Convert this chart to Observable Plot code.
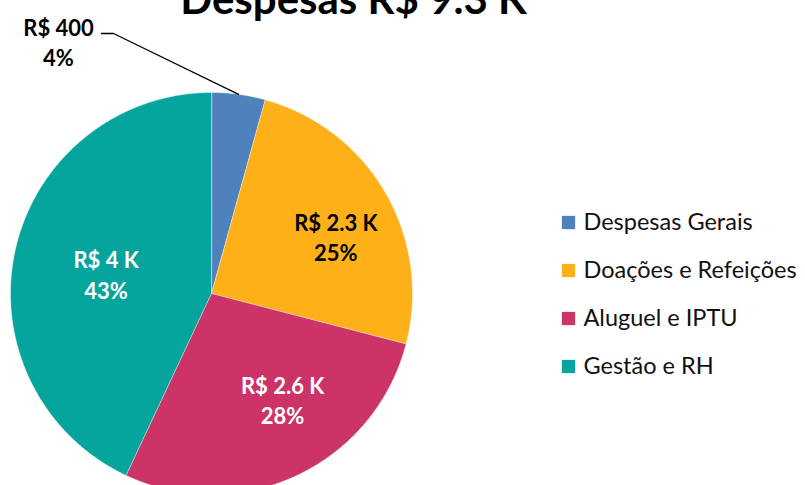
<!DOCTYPE html>
<html>
<head>
<meta charset="utf-8">
<script src="https://cdn.jsdelivr.net/npm/d3@7"></script>
<script src="https://cdn.jsdelivr.net/npm/@observablehq/plot@0.6"></script>
<style>
  html, body { margin: 0; padding: 0; background: white; overflow: hidden; }
  #chart { width: 805px; height: 485px; }
</style>
</head>
<body>
<div id="chart"></div>
<script>
// ---- data ----
const title = "Despesas R$ 9.3 K";
const categories = ["Despesas Gerais", "Doações e Refeições", "Aluguel e IPTU", "Gestão e RH"];
const values = [400, 2300, 2600, 4000];
const valueLabels = ["R$ 400", "R$ 2.3 K", "R$ 2.6 K", "R$ 4 K"];
const percentLabels = ["4%", "25%", "28%", "43%"];
const colors = ["#4f81bd", "#fdb018", "#cc3366", "#05a59d"];
const labelColors = ["#000000", "#000000", "#ffffff", "#ffffff"];

// ---- layout ----
const W = 805, H = 485;
const cx = 211, cy = 293, R = 201;
const FONT = "Lato, 'Open Sans', sans-serif";

const arcs = d3.pie().sort(null).value(d => d)(values);

// slice outlines derived from the data through d3.pie
const slicePts = [];
arcs.forEach((a, i) => {
  const cat = categories[i];
  slicePts.push({cat, x: cx, y: cy});
  const n = Math.max(4, Math.ceil((a.endAngle - a.startAngle) / (Math.PI / 360)));
  for (let k = 0; k <= n; k++) {
    const t = a.startAngle + (a.endAngle - a.startAngle) * k / n;
    slicePts.push({cat, x: cx + R * Math.sin(t), y: cy - R * Math.cos(t)});
  }
});

// in-slice labels at mid angle (small nudges like the Excel best-fit placement)
const labelNudge = [[0, 0], [6, 11], [13, -18], [28, 10]];
const labelR = 0.68 * R;
const inside = arcs.map((a, i) => {
  const m = (a.startAngle + a.endAngle) / 2;
  return {
    i,
    text: valueLabels[i] + "\n" + percentLabels[i],
    x: cx + labelR * Math.sin(m) + labelNudge[i][0],
    y: cy - labelR * Math.cos(m) + labelNudge[i][1]
  };
}).filter(d => d.i !== 0);

// outside label for the small slice with a leader line to the arc at mid angle
const a0 = arcs[0];
const m0 = (a0.startAngle + a0.endAngle) / 2;
const outside = [{text: valueLabels[0] + "\n" + percentLabels[0], x: 58, y: 41}];
const leader = [
  {x: 101, y: 33},
  {x: 113, y: 33},
  {x: cx + R * Math.sin(m0), y: cy - R * Math.cos(m0)}
];

const legend = categories.map((c, i) => ({cat: c, y: 222 + i * 48}));

const chart = Plot.plot({
  width: W,
  height: H,
  margin: 0,
  x: {domain: [0, W], range: [0, W], axis: null},
  y: {domain: [0, H], range: [0, H], axis: null},
  color: {domain: categories, range: colors},
  style: {fontFamily: FONT, background: "white", overflow: "hidden"},
  marks: [
    Plot.line(slicePts, {x: "x", y: "y", z: "cat", fill: "cat", stroke: "white", strokeWidth: 0.6, strokeOpacity: 0.7, curve: "linear-closed"}),
    Plot.text(inside, {
      x: "x", y: "y", text: "text",
      fill: d => labelColors[d.i],
      fontSize: 22, fontWeight: "bold", lineHeight: 1.4, lineAnchor: "middle", fontFamily: FONT
    }),
    Plot.line(leader, {x: "x", y: "y", stroke: "black", strokeWidth: 1.3}),
    Plot.text(outside, {
      x: "x", y: "y", text: "text", fill: "black",
      fontSize: 22, fontWeight: "bold", lineHeight: 1.36, lineAnchor: "middle", fontFamily: FONT
    }),
    Plot.dot(legend, {x: 568, y: "y", fill: "cat", symbol: "square", r: 7.5}),
    Plot.text(legend, {
      x: 583, y: "y", text: "cat", fill: "#111", textAnchor: "start", lineAnchor: "middle",
      fontSize: 23.5, fontFamily: FONT
    }),
    Plot.text([title], {
      x: 353, y: 13, text: d => d, fill: "black", fontSize: 42, fontWeight: "bold",
      lineAnchor: "bottom", fontFamily: FONT
    })
  ]
});

document.getElementById("chart").appendChild(chart);
</script>
</body>
</html>
